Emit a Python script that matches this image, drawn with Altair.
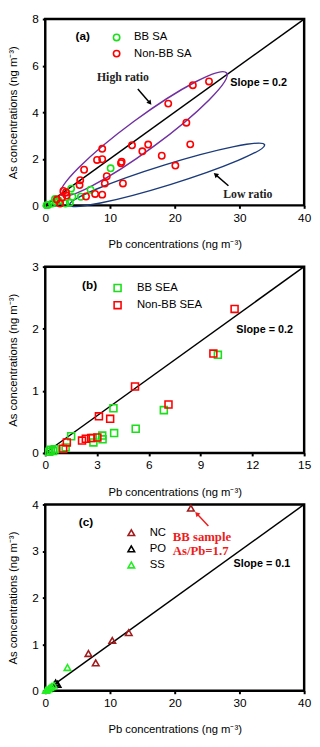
import altair as alt
import pandas as pd

# ---------------- Panel (a) data ----------------
a_bb_pb = [10.1, 4.0, 7.0, 5.5, 4.2, 2.1, 3.8, 3.1, 1.6, 0.45, 1.06, 0.2, 1.5]
a_bb_as = [1.59, 0.72, 0.67, 0.37, 0.37, 0.20, 0.11, 0.08, 0.16, 0.02, 0.08, 0.01, 0.27]
a_non_pb = [25.3, 22.8, 19.0, 21.8, 22.4, 18.0, 20.1, 15.9, 15.0, 13.4, 11.8, 11.7, 12.0,
            8.8, 8.8, 8.0, 6.0, 9.5, 9.2, 8.8, 7.7, 6.3, 5.4, 5.3, 3.2, 2.8, 2.6, 1.8, 2.3, 3.3]
a_non_as = [5.32, 5.16, 4.37, 3.55, 2.62, 2.13, 1.71, 2.61, 2.32, 2.58, 1.87, 1.81, 0.94,
            2.43, 1.98, 1.95, 1.53, 1.25, 0.94, 0.46, 0.49, 0.38, 1.08, 0.87, 0.56, 0.62, 0.34, 0.25, 0.08, 0.42]
a_series = ["BB SA", "Non-BB SA"]

# ---------------- Panel (b) data ----------------
b_bb_pb = [10.0, 6.87, 3.95, 3.99, 5.24, 1.5, 3.3, 3.32, 2.79, 2.75, 1.18, 0.32, 0.45, 0.23, 0.55]
b_bb_as = [1.58, 0.69, 0.72, 0.32, 0.39, 0.27, 0.28, 0.22, 0.17, 0.24, 0.09, 0.05, 0.03, 0.02, 0.06]
b_non_pb = [10.97, 9.74, 5.2, 7.14, 3.11, 3.76, 3.02, 2.66, 2.35, 2.13, 1.25, 1.04]
b_non_as = [2.32, 1.60, 1.07, 0.78, 0.59, 0.55, 0.25, 0.24, 0.23, 0.20, 0.17, 0.07]
b_series = ["BB SEA", "Non-BB SEA"]

# ---------------- Panel (c) data ----------------
c_nc_pb = [22.5, 12.9, 10.35, 6.67, 7.8]
c_nc_as = [3.92, 1.25, 1.08, 0.80, 0.60]
c_po_pb = [1.9, 1.6]
c_po_as = [0.14, 0.17]
c_ss_pb = [3.43, 1.3, 1.0, 0.75, 0.5, 0.25, 0.1]
c_ss_as = [0.50, 0.12, 0.09, 0.07, 0.04, 0.02, 0.01]
c_series = ["NC", "PO", "SS"]

# axis ranges / ticks
a_xticks = [0, 10, 20, 30, 40]
a_yticks = [0, 2, 4, 6, 8]
b_xticks = [0, 3, 6, 9, 12, 15]
b_yticks = [0, 1, 2, 3]
c_xticks = [0, 10, 20, 30, 40]
c_yticks = [0, 1, 2, 3, 4]
slopes = [0.2, 0.2, 0.1]

X_TITLE = "Pb concentrations (ng m\u207b\u00b3)"
Y_TITLE = "As concentrations (ng m\u207b\u00b3)"
W, H = 264, 190

K = 0.5523


def ellipse_path(b):
    kb = K * b
    return (f"M 1 0 C 1 {kb:.4f} {K} {b} 0 {b} C {-K} {b} -1 {kb:.4f} -1 0 "
            f"C -1 {-kb:.4f} {-K} {-b} 0 {-b} C {K} {-b} 1 {-kb:.4f} 1 0 Z")


def enc(xmax, ymax, xticks, yticks):
    x = alt.X("Pb:Q", scale=alt.Scale(domain=[0, xmax], nice=False, zero=True),
              axis=alt.Axis(values=xticks, title=X_TITLE, grid=False, domain=False,
                            tickSize=3, tickWidth=2, tickColor="black",
                            labelFontSize=12, labelPadding=4, labelColor="black",
                            titleFontSize=11.5, titleFontWeight="normal", titlePadding=16,
                            titleColor="black", labelFont="Liberation Sans", titleFont="Liberation Sans",
                            labelFlush=False))
    y = alt.Y("As:Q", scale=alt.Scale(domain=[0, ymax], nice=False, zero=True),
              axis=alt.Axis(values=yticks, title=Y_TITLE, grid=False, domain=False,
                            tickSize=3, tickWidth=2, tickColor="black",
                            labelFontSize=12, labelPadding=4, labelColor="black",
                            titleFontSize=11.5, titleFontWeight="normal", titlePadding=14,
                            titleColor="black", labelFont="Liberation Sans", titleFont="Liberation Sans",
                            labelFlush=False))
    return x, y


def points_df(groups):
    rows = []
    for name, xs, ys in groups:
        for px, py in zip(xs, ys):
            rows.append({"Pb": px, "As": py, "series": name})
    return pd.DataFrame(rows)


def panel(df, series, colors, shape, size, xmax, ymax, xticks, yticks, slope,
          legend_x, legend_y, row_pad, label_off, sym_size, texts, arrows, ellipses):
    x, y = enc(xmax, ymax, xticks, yticks)
    pts = alt.Chart(df).mark_point(filled=False, shape=shape, size=size, strokeWidth=1.6, opacity=1).encode(
        x=x, y=y,
        color=alt.Color("series:N", scale=alt.Scale(domain=series, range=colors),
                        legend=alt.Legend(title=None, orient="none", legendX=legend_x, legendY=legend_y,
                                          symbolType=shape, symbolSize=sym_size, symbolStrokeWidth=1.6,
                                          symbolFillColor="transparent", labelFontSize=11.5,
                                          labelFont="Liberation Sans", labelColor="black",
                                          labelOffset=label_off, rowPadding=row_pad, padding=0)),
    )
    line_df = pd.DataFrame({"Pb": [0], "As": [0], "Pb2": [xmax], "As2": [xmax * slope]})
    line = alt.Chart(line_df).mark_rule(color="black", strokeWidth=1.5).encode(
        x=x, y=y, x2="Pb2:Q", y2="As2:Q")
    layers = [line]
    for (cx, cy, bratio, sz, ang, col) in ellipses:
        edf = pd.DataFrame({"Pb": [cx], "As": [cy]})
        layers.append(alt.Chart(edf).mark_point(shape=ellipse_path(bratio), size=sz, angle=ang,
                                                filled=False, stroke=col, strokeWidth=1.5,
                                                opacity=1).encode(x=x, y=y))
    for (x0, y0, x1, y1, ang, col) in arrows:
        adf = pd.DataFrame({"Pb": [x0], "As": [y0], "Pb2": [x1], "As2": [y1]})
        layers.append(alt.Chart(adf).mark_rule(color=col, strokeWidth=1.5).encode(
            x=x, y=y, x2="Pb2:Q", y2="As2:Q"))
        hdf = pd.DataFrame({"Pb": [x1], "As": [y1]})
        layers.append(alt.Chart(hdf).mark_point(shape="triangle", size=30, angle=ang, filled=True,
                                                color=col, opacity=1).encode(x=x, y=y))
    layers.append(pts)
    for (tx, ty, txt, font, fsize, col, align) in texts:
        tdf = pd.DataFrame({"Pb": [tx], "As": [ty], "t": [txt]})
        layers.append(alt.Chart(tdf).mark_text(font=font, fontSize=fsize, fontWeight="bold",
                                               color=col, align=align, baseline="middle").encode(
            x=x, y=y, text="t:N"))
    return alt.layer(*layers).properties(width=W, height=H).resolve_scale(color="independent")


df_a = points_df([("BB SA", a_bb_pb, a_bb_as), ("Non-BB SA", a_non_pb, a_non_as)])
df_b = points_df([("BB SEA", b_bb_pb, b_bb_as), ("Non-BB SEA", b_non_pb, b_non_as)])
df_c = points_df([("NC", c_nc_pb, c_nc_as), ("PO", c_po_pb, c_po_as), ("SS", c_ss_pb, c_ss_as)])

SANS = "Liberation Sans"
SERIF = "Liberation Serif"

pa = panel(df_a, a_series, ["#19e019", "#ff0000"], "circle", 42, 40, 8, a_xticks, a_yticks, slopes[0],
           67, 13, 2.5, 12, 42,
           texts=[(5.8, 7.28, "(a)", SANS, 12, "black", "center"),
                  (28.6, 5.26, "Slope = 0.2", SANS, 11, "black", "left"),
                  (12.0, 5.52, "High ratio", SERIF, 12, "#222222", "center"),
                  (31.3, 0.50, "Low ratio", SERIF, 12, "#222222", "center")],
           arrows=[(14.3, 5.0, 16.1, 4.42, 142, "black"),
                   (28.3, 0.84, 26.4, 1.30, 310, "black")],
           ellipses=[(15.23, 3.07, 0.155, 43930, 323.7, "#7030a0"),
                     (18.83, 1.31, 0.10, 43264, 342.8, "#1b3a7a")])

pb = panel(df_b, b_series, ["#19e019", "#ff0000"], "square", 50, 15, 3, b_xticks, b_yticks, slopes[1],
           68, 16, 3.5, 14, 50,
           texts=[(2.57, 2.71, "(b)", SANS, 12, "black", "center"),
                  (11.07, 1.98, "Slope = 0.2", SANS, 11, "black", "left")],
           arrows=[], ellipses=[])

pc = panel(df_c, c_series, ["#a01c1c", "#000000", "#22ee22"], "triangle-up", 45, 40, 4, c_xticks, c_yticks,
           slopes[2], 82, 23, 3.5, 13, 45,
           texts=[(6.3, 3.62, "(c)", SANS, 12, "black", "center"),
                  (19.7, 3.31, "BB sample", SERIF, 13, "#ee1c1c", "left"),
                  (19.7, 2.99, "As/Pb=1.7", SERIF, 13, "#ee1c1c", "left"),
                  (29.1, 2.72, "Slope = 0.1", SANS, 11, "black", "left")],
           arrows=[(25.2, 3.54, 23.5, 3.79, 316, "#ee1c1c")],
           ellipses=[])

inner = alt.ConcatChart(concat=[pb, pc], columns=1, spacing=-2.5, align="none").resolve_scale(color="independent")
chart = alt.ConcatChart(concat=[pa, inner], columns=1, spacing=7.5, align="none").resolve_scale(
    color="independent").configure_view(stroke="black", strokeWidth=2.5).properties(
    padding={"left": -2, "top": -4, "right": 0, "bottom": 0}, background="white")

chart.save("out.html", embed_options={"renderer": "svg", "actions": False})
